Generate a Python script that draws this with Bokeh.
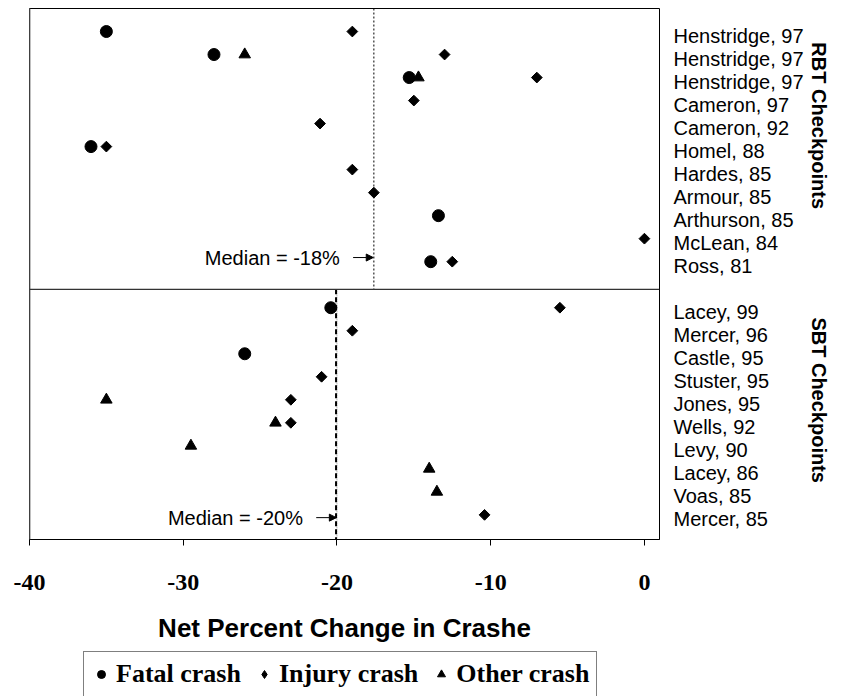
import math
from bokeh.plotting import figure
from bokeh.layouts import column
from bokeh.models import (Range1d, FixedTicker, LinearAxis, Label, Arrow, NormalHead,
                          Span, Legend, LegendItem, ColumnDataSource)
from bokeh.embed import file_html
from bokeh.resources import INLINE

nan = float("nan")

# ---- data -------------------------------------------------------------
studies = ["Henstridge, 97", "Henstridge, 97", "Henstridge, 97", "Cameron, 97",
           "Cameron, 92", "Homel, 88", "Hardes, 85", "Armour, 85", "Arthurson, 85",
           "McLean, 84", "Ross, 81",
           "Lacey, 99", "Mercer, 96", "Castle, 95", "Stuster, 95", "Jones, 95",
           "Wells, 92", "Levy, 90", "Lacey, 86", "Voas, 85", "Mercer, 85"]
rows = [1, 2, 3, 4, 5, 6, 7, 8, 9, 10, 11,
        13, 14, 15, 16, 17, 18, 19, 20, 21, 22]
fatal = [-35.0, -28.0, -15.3, nan, nan, -36.0, nan, nan, -13.4, nan, -13.9,
         -20.4, nan, -26.0, nan, nan, nan, nan, nan, nan, nan]
injury = [-19.0, -13.0, -7.0, -15.0, -21.1, -35.0, -19.0, -17.6, nan, 0.0, -12.5,
          -5.5, -19.0, nan, -21.0, -23.0, -23.0, nan, nan, nan, -10.4]
other = [nan, -26.0, -14.7, nan, nan, nan, nan, nan, nan, nan, nan,
         nan, nan, nan, nan, -35.0, -24.0, -29.5, -14.0, -13.5, nan]

groups = ["RBT Checkpoints", "SBT Checkpoints"]
medians = [-17.6, -20.0]
median_labels = ["Median = -18%", "Median = -20%"]
x_ticks = [-40, -30, -20, -10, 0]
x_tick_labels = ["-40", "-30", "-20", "-10", "0"]
x_title = "Net Percent Change in Crashe"
series_names = ["Fatal crash", "Injury crash", "Other crash"]

# ---- layout constants ---------------------------------------------------
SEP = 12.2          # divider between the two panels (row units)
Y_BOTTOM = 23.07
GROUP_POS = [1.47, 13.42]   # where each rotated group title starts
SANS = "Liberation Sans"
SERIF = "Liberation Serif"
W = 843
MAIN_H = 645
LEG_H = 696 - MAIN_H

src = ColumnDataSource(dict(row=rows, fatal=fatal, injury=injury, other=other))

p = figure(width=W, height=MAIN_H, output_backend="svg", toolbar_location=None,
           x_range=Range1d(-40, 0.98), y_range=Range1d(Y_BOTTOM, 0),
           y_axis_location=None, x_axis_location="below",
           min_border_left=29, min_border_right=184, min_border_top=8,
           min_border_bottom=104)
p.background_fill_color = "white"
p.border_fill_color = "white"
p.outline_line_color = "black"
p.outline_line_width = 1
p.xgrid.visible = False
p.ygrid.visible = False

# x axis
xa = p.xaxis[0]
xa.ticker = FixedTicker(ticks=x_ticks)
xa.major_label_overrides = {t: s for t, s in zip(x_ticks, x_tick_labels)}
xa.minor_tick_line_color = None
xa.major_tick_in = 0
xa.major_tick_out = 6
xa.major_tick_line_color = "black"
xa.axis_line_color = "black"
xa.major_label_text_font = SERIF
xa.major_label_text_font_style = "bold"
xa.major_label_text_font_size = "24px"
xa.major_label_text_color = "black"
xa.major_label_standoff = 29
xa.axis_label = x_title
xa.axis_label_text_font = SANS
xa.axis_label_text_font_style = "bold"
xa.axis_label_text_font_size = "26px"
xa.axis_label_text_color = "black"
xa.axis_label_standoff = 20

# right-hand study labels
p.extra_y_ranges = {"lab": Range1d(Y_BOTTOM - 0.2, -0.2)}
ra = LinearAxis(y_range_name="lab", ticker=FixedTicker(ticks=rows),
                major_label_overrides={r: s for r, s in zip(rows, studies)})
ra.axis_line_color = None
ra.major_tick_line_color = None
ra.minor_tick_line_color = None
ra.major_tick_in = 0
ra.major_tick_out = 0
ra.major_label_standoff = 14
ra.major_label_text_font = SANS
ra.major_label_text_font_size = "20px"
ra.major_label_text_color = "black"
p.add_layout(ra, "right")

# rotated group titles
ga = LinearAxis(ticker=FixedTicker(ticks=GROUP_POS),
                major_label_overrides={g: s for g, s in zip(GROUP_POS, groups)},
                major_label_orientation=-math.pi / 2)
ga.axis_line_color = None
ga.major_tick_line_color = None
ga.minor_tick_line_color = None
ga.major_tick_in = 0
ga.major_tick_out = 0
ga.major_label_standoff = 12
ga.major_label_text_font = SANS
ga.major_label_text_font_style = "bold"
ga.major_label_text_font_size = "20px"
ga.major_label_text_color = "black"
p.add_layout(ga, "right")

# left border (gray) and divider
p.add_layout(Span(location=-40, dimension="height", line_color="#808080", line_width=2))
p.add_layout(Span(location=SEP, dimension="width", line_color="#333333", line_width=1.3))

# median lines
p.segment(x0=[medians[0]], y0=[0], x1=[medians[0]], y1=[SEP],
          line_color="black", line_width=1, line_dash="2 2")
p.segment(x0=[medians[1]], y0=[SEP], x1=[medians[1]], y1=[Y_BOTTOM],
          line_color="#999999", line_width=1, line_dash="1 1")
p.segment(x0=[medians[1] - 0.06], y0=[SEP], x1=[medians[1] - 0.06], y1=[Y_BOTTOM],
          line_color="black", line_width=2, line_dash="5 3")

# points
p.scatter(x="fatal", y="row", source=src, marker="circle", size=12,
          fill_color="black", line_color="black")
p.scatter(x="injury", y="row", source=src, marker="square", angle=math.pi / 4,
          size=7.6, fill_color="black", line_color="black")
p.scatter(x="other", y="row", source=src, marker="triangle", size=11.5,
          fill_color="black", line_color="black")

# median annotations
median_y = [10.82, 22.12]
for m, lab, yy in zip(medians, median_labels, median_y):
    p.add_layout(Label(x=m, y=yy, text=lab, x_offset=-34, text_align="right",
                       text_baseline="middle", text_font=SANS, text_font_size="20px",
                       text_color="black"))
    p.add_layout(Arrow(end=NormalHead(size=7, fill_color="black", line_color="black"),
                       x_start=m - 1.35, y_start=yy, x_end=m - 0.04, y_end=yy,
                       line_color="black", line_width=1))

# ---- legend strip (same series, plotted out of view, legend only) -------
lf = figure(width=W, height=LEG_H, output_backend="svg", toolbar_location=None,
            x_range=Range1d(-40, 0.98), y_range=Range1d(100, 101),
            x_axis_location=None, y_axis_location=None,
            min_border=0, min_border_left=0, min_border_right=0,
            min_border_top=0, min_border_bottom=0)
lf.outline_line_color = None
lf.background_fill_color = "white"
lf.border_fill_color = "white"
lf.xgrid.visible = False
lf.ygrid.visible = False
l_fatal = lf.scatter(x="fatal", y="row", source=src, marker="circle", size=12,
                     fill_color="black", line_color="black")
l_injury = lf.scatter(x="injury", y="row", source=src, marker="diamond", size=13,
                      fill_color="black", line_color="black")
l_other = lf.scatter(x="other", y="row", source=src, marker="triangle", size=11.5,
                     fill_color="black", line_color="black")

legend = Legend(items=[LegendItem(label=series_names[0], renderers=[l_fatal]),
                       LegendItem(label=series_names[1], renderers=[l_injury]),
                       LegendItem(label=series_names[2], renderers=[l_other])],
                orientation="horizontal", location=(54, -1),
                label_text_font=SERIF, label_text_font_style="bold",
                label_text_font_size="26px", label_text_color="black",
                glyph_width=20, glyph_height=20, label_standoff=5, spacing=13,
                padding=7, margin=0, border_line_color="black", border_line_width=1,
                background_fill_color="white", background_fill_alpha=1)
lf.add_layout(legend, "center")

layout = column(p, lf, spacing=0)
open("out.html", "w").write(file_html(layout, INLINE))
